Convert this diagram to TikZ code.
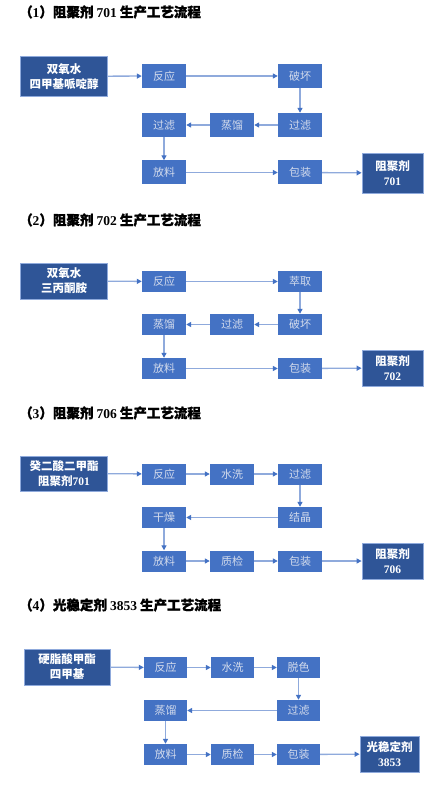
\documentclass[tikz,border=0pt]{standalone}
\usepackage{fontspec}
\setmainfont{Liberation Serif}
\newfontfamily\cjk{Noto Sans CJK SC}
\newfontfamily\cjkh[BoldFeatures={FakeBold=1.2}]{Noto Sans CJK SC}
\usetikzlibrary{arrows.meta}
\definecolor{boxblue}{HTML}{4472C4}
\definecolor{darkblue}{HTML}{2F5597}
\definecolor{edgeblue}{HTML}{8FAADC}
\definecolor{boxtext}{HTML}{D3DBEC}
\tikzset{
  stepbox/.style={fill=boxblue, draw=none, text=boxtext, minimum width=44pt, minimum height=21pt, inner sep=0pt, font=\cjk\fontsize{11}{12}\selectfont},
  endbox/.style={fill=darkblue, draw=edgeblue, line width=0.8pt, text=white, inner sep=0pt, align=center, font=\cjk\bfseries\fontsize{11.5}{15}\selectfont},
  flow/.style={draw=edgeblue, line width=1.3pt, -{Triangle[length=5pt,width=5pt,color=boxblue]}},
  titletext/.style={anchor=west, inner sep=0pt, font=\cjkh\bfseries\fontsize{13.5}{15}\selectfont}
}
\newcommand{\num}[1]{{\rmfamily\bfseries #1}}
\begin{document}
\begin{tikzpicture}[x=1pt,y=-1pt]
\useasboundingbox (0,0) rectangle (435,791);
\fill[white] (0,0) rectangle (435,791);

% ---------- Section 1 ----------
\node[titletext] (t1) at (19,12) {（\num{1}）阻聚剂 \num{701} 生产工艺流程};
\node[endbox, minimum width=86.6pt, minimum height=40.7pt] (in1) at (64,76.3) {双氧水\\四甲基哌啶醇};
\node[stepbox, minimum height=24pt] (r1) at (164,76) {反应};
\node[stepbox, minimum height=24pt] (p1) at (300,76) {破坏};
\node[stepbox, minimum height=24pt] (g1) at (300,125) {过滤};
\node[stepbox, minimum height=24pt] (z1) at (232,125) {蒸馏};
\node[stepbox, minimum height=24pt] (h1) at (164,125) {过滤};
\node[stepbox, minimum height=24pt] (f1) at (164,172.5) {放料};
\node[stepbox, minimum height=24pt] (b1) at (300,172.5) {包装};
\node[endbox, minimum width=61pt, minimum height=40pt] (o1) at (392.5,173) {阻聚剂\\\num{701}};
\draw[flow] (in1) -- (r1);
\draw[flow] (r1) -- (p1);
\draw[flow] (p1) -- (g1);
\draw[flow] (g1) -- (z1);
\draw[flow] (z1) -- (h1);
\draw[flow] (h1) -- (f1);
\draw[flow] (f1) -- (b1);
\draw[flow] (b1) -- (o1);

% ---------- Section 2 ----------
\node[titletext] (t2) at (19,220) {（\num{2}）阻聚剂 \num{702} 生产工艺流程};
\node[endbox, minimum width=86.6pt, minimum height=36pt] (in2) at (64,281) {双氧水\\三丙酮胺};
\node[stepbox] (r2) at (164,281.5) {反应};
\node[stepbox] (c2) at (300,281.5) {萃取};
\node[stepbox] (p2) at (300,324.5) {破坏};
\node[stepbox] (g2) at (232,324.5) {过滤};
\node[stepbox] (z2) at (164,324.5) {蒸馏};
\node[stepbox] (f2) at (164,368.5) {放料};
\node[stepbox] (b2) at (300,368.5) {包装};
\node[endbox, minimum width=61pt, minimum height=36pt] (o2) at (392.5,368) {阻聚剂\\\num{702}};
\draw[flow] (in2) -- (r2);
\draw[flow] (r2) -- (c2);
\draw[flow] (c2) -- (p2);
\draw[flow] (p2) -- (g2);
\draw[flow] (g2) -- (z2);
\draw[flow] (z2) -- (f2);
\draw[flow] (f2) -- (b2);
\draw[flow] (b2) -- (o2);

% ---------- Section 3 ----------
\node[titletext] (t3) at (19,413) {（\num{3}）阻聚剂 \num{706} 生产工艺流程};
\node[endbox, minimum width=86.6pt, minimum height=35pt] (in3) at (64,473.5) {癸二酸二甲酯\\阻聚剂\num{701}};
\node[stepbox] (r3) at (164,474) {反应};
\node[stepbox] (s3) at (232,474) {水洗};
\node[stepbox] (g3) at (300,474) {过滤};
\node[stepbox] (j3) at (300,517.5) {结晶};
\node[stepbox] (d3) at (164,517.5) {干燥};
\node[stepbox] (f3) at (164,561) {放料};
\node[stepbox] (q3) at (232,561) {质检};
\node[stepbox] (b3) at (300,561) {包装};
\node[endbox, minimum width=61pt, minimum height=36pt] (o3) at (392.5,561) {阻聚剂\\\num{706}};
\draw[flow] (in3) -- (r3);
\draw[flow] (r3) -- (s3);
\draw[flow] (s3) -- (g3);
\draw[flow] (g3) -- (j3);
\draw[flow] (j3) -- (d3);
\draw[flow] (d3) -- (f3);
\draw[flow] (f3) -- (q3);
\draw[flow] (q3) -- (b3);
\draw[flow] (b3) -- (o3);

% ---------- Section 4 ----------
\node[titletext] (t4) at (19,605) {（\num{4}）光稳定剂 \num{3853} 生产工艺流程};
\node[endbox, minimum width=86pt, minimum height=36pt] (in4) at (67,667) {硬脂酸甲酯\\四甲基};
\node[stepbox, minimum width=43pt] (r4) at (165.5,667.5) {反应};
\node[stepbox, minimum width=43pt] (s4) at (232.5,667.5) {水洗};
\node[stepbox, minimum width=43pt] (x4) at (298.5,667.5) {脱色};
\node[stepbox, minimum width=43pt] (g4) at (298.5,710.5) {过滤};
\node[stepbox, minimum width=43pt] (z4) at (165.5,710.5) {蒸馏};
\node[stepbox, minimum width=43pt] (f4) at (165.5,754.5) {放料};
\node[stepbox, minimum width=43pt] (q4) at (232.5,754.5) {质检};
\node[stepbox, minimum width=43pt] (b4) at (298.5,754.5) {包装};
\node[endbox, minimum width=59pt, minimum height=36pt] (o4) at (389.5,754) {光稳定剂\\\num{3853}};
\draw[flow] (in4) -- (r4);
\draw[flow] (r4) -- (s4);
\draw[flow] (s4) -- (x4);
\draw[flow] (x4) -- (g4);
\draw[flow] (g4) -- (z4);
\draw[flow] (z4) -- (f4);
\draw[flow] (f4) -- (q4);
\draw[flow] (q4) -- (b4);
\draw[flow] (b4) -- (o4);
\end{tikzpicture}
\end{document}
